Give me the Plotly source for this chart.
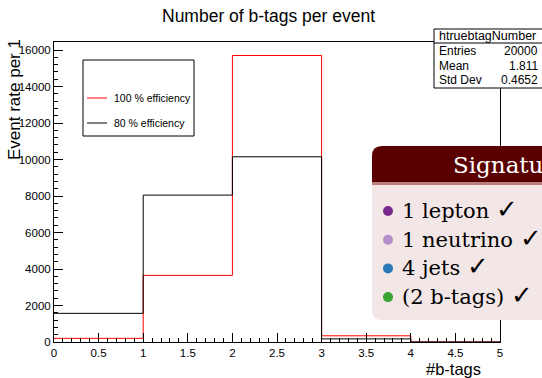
import plotly.graph_objects as go

# ---- data ----
bin_edges = [0, 1, 2, 3, 4, 5]
eff100_counts = [200, 3650, 15700, 340, 0]
eff80_counts = [1570, 8050, 10150, 170, 0]
x_ticks = [0, 0.5, 1, 1.5, 2, 2.5, 3, 3.5, 4, 4.5, 5]
x_tick_labels = ["0", "0.5", "1", "1.5", "2", "2.5", "3", "3.5", "4", "4.5", "5"]
stats_labels = ["Entries", "Mean", "Std Dev"]
stats_values = ["20000", "1.811", "0.4652"]
legend_labels = ["100 % efficiency", "80 % efficiency"]
signature_items = ["1 lepton", "1 neutrino", "4 jets", "(2 b-tags)"]
signature_colors = ["#7a2a8c", "#b58fc9", "#2a78b5", "#3aa535"]

W, H = 542, 378
L, R, T, B = 54, 500, 42, 342

def px(X):
    return (X - L) / (R - L)

def py(Y):
    return (B - Y) / (B - T)

sans = "Liberation Sans, Arial, Helvetica, sans-serif"
serif = "DejaVu Serif, Liberation Serif, serif"

fig = go.Figure()
for counts, color in [(eff100_counts, "#ff0000"), (eff80_counts, "#000000")]:
    fig.add_trace(go.Scatter(
        x=bin_edges, y=counts + [counts[-1]],
        mode="lines", line=dict(color=color, width=1, shape="hv"),
        showlegend=False, hoverinfo="skip"))

shapes = []
annotations = []

# title
annotations.append(dict(xref="paper", yref="paper", x=px(268), y=py(16),
                        text="Number of b-tags per event", showarrow=False,
                        xanchor="center", yanchor="middle",
                        font=dict(family=sans, size=17.5, color="black")))
# y title
annotations.append(dict(xref="paper", yref="paper", x=px(14), y=py(100),
                        text="Event rate per 1", showarrow=False, textangle=-90,
                        xanchor="center", yanchor="middle",
                        font=dict(family=sans, size=17, color="black")))
# x title
annotations.append(dict(xref="paper", yref="paper", x=px(483), y=py(369),
                        text="#b-tags", showarrow=False,
                        xanchor="right", yanchor="middle",
                        font=dict(family=sans, size=16.5, color="black")))

# legend box
shapes.append(dict(type="rect", xref="paper", yref="paper",
                   x0=px(83), x1=px(194), y0=py(60), y1=py(136),
                   line=dict(color="black", width=1), fillcolor="white", layer="above"))
for i, (lab, col) in enumerate(zip(legend_labels, ["#ff0000", "#000000"])):
    yy = 98 + i * 25
    shapes.append(dict(type="line", xref="paper", yref="paper",
                       x0=px(87), x1=px(107), y0=py(yy), y1=py(yy),
                       line=dict(color=col, width=1), layer="above"))
    annotations.append(dict(xref="paper", yref="paper", x=px(112), y=py(yy),
                            text=lab, showarrow=False, xanchor="left", yanchor="middle",
                            font=dict(family=sans, size=10.5, color="black")))

# stats box
shapes.append(dict(type="rect", xref="paper", yref="paper",
                   x0=px(434), x1=px(560), y0=py(29), y1=py(88),
                   line=dict(color="black", width=1), fillcolor="white", layer="above"))
shapes.append(dict(type="line", xref="paper", yref="paper",
                   x0=px(434), x1=px(560), y0=py(43), y1=py(43),
                   line=dict(color="black", width=1), layer="above"))
annotations.append(dict(xref="paper", yref="paper", x=px(487), y=py(36),
                        text="htruebtagNumber", showarrow=False,
                        xanchor="center", yanchor="middle",
                        font=dict(family=sans, size=12.5, color="black")))
for i, (lab, val) in enumerate(zip(stats_labels, stats_values)):
    yy = 51 + i * 14.5
    annotations.append(dict(xref="paper", yref="paper", x=px(437), y=py(yy),
                            text=lab, showarrow=False, xanchor="left", yanchor="middle",
                            font=dict(family=sans, size=12, color="black")))
    annotations.append(dict(xref="paper", yref="paper", x=px(540), y=py(yy),
                            text=val, showarrow=False, xanchor="right", yanchor="middle",
                            font=dict(family=sans, size=12, color="black")))

# signature box
def pt(X, Y):
    return f"{px(X):.5f},{py(Y):.5f}"

x0, x1, y0, y1, yh, r = 372, 600, 146, 320, 182, 10
body = (f"M {pt(x0 + r, y0)} L {pt(x1, y0)} L {pt(x1, y1)} L {pt(x0 + r, y1)} "
        f"Q {pt(x0, y1)} {pt(x0, y1 - r)} L {pt(x0, y0 + r)} Q {pt(x0, y0)} {pt(x0 + r, y0)} Z")
head = (f"M {pt(x0 + r, y0)} L {pt(x1, y0)} L {pt(x1, yh)} L {pt(x0, yh)} "
        f"L {pt(x0, y0 + r)} Q {pt(x0, y0)} {pt(x0 + r, y0)} Z")
shapes.append(dict(type="path", xref="paper", yref="paper", path=body,
                   fillcolor="#f3e6e6", line=dict(width=0), layer="above"))
shapes.append(dict(type="path", xref="paper", yref="paper", path=head,
                   fillcolor="#5a0000", line=dict(width=0), layer="above"))
shapes.append(dict(type="rect", xref="paper", yref="paper",
                   x0=px(x0), x1=px(x1), y0=py(yh), y1=py(yh + 3),
                   fillcolor="#b88080", line=dict(width=0), layer="above"))
annotations.append(dict(xref="paper", yref="paper", x=px(451), y=py(165),
                        text="Signature", showarrow=False, xanchor="left", yanchor="middle",
                        font=dict(family=serif, size=23, color="white")))
for i, (txt, col) in enumerate(zip(signature_items, signature_colors)):
    yy = 211 + i * 28.7
    shapes.append(dict(type="circle", xref="paper", yref="paper",
                       x0=px(383), x1=px(393), y0=py(yy - 5), y1=py(yy + 5),
                       fillcolor=col, line=dict(width=0), layer="above"))
    annotations.append(dict(xref="paper", yref="paper", x=px(400), y=py(yy - 2),
                            text=txt + " <span style='font-size:26px'>✓</span>",
                            showarrow=False, xanchor="left", yanchor="middle",
                            font=dict(family=serif, size=21, color="black")))

fig.update_layout(
    width=W, height=H,
    margin=dict(l=L, r=W - R, t=T, b=H - B, pad=0),
    paper_bgcolor="white", plot_bgcolor="white",
    showlegend=False,
    shapes=shapes, annotations=annotations,
    xaxis=dict(range=[0, 5], tickvals=x_ticks, ticktext=x_tick_labels,
               ticks="inside", ticklen=9, tickcolor="black", tickwidth=1,
               minor=dict(dtick=0.1, ticks="inside", ticklen=4, tickcolor="black", showgrid=False),
               showline=True, linecolor="black", linewidth=1, mirror=True,
               showgrid=False, zeroline=False,
               tickfont=dict(family=sans, size=11.5, color="black")),
    yaxis=dict(range=[0, 16440], dtick=2000, tick0=0, tickformat="d",
               ticks="inside", ticklen=9, tickcolor="black", tickwidth=1,
               minor=dict(dtick=400, ticks="inside", ticklen=4, tickcolor="black", showgrid=False),
               showline=True, linecolor="black", linewidth=1, mirror=True,
               showgrid=False, zeroline=False,
               tickfont=dict(family=sans, size=11.5, color="black")),
)

fig.write_html("out.html")
